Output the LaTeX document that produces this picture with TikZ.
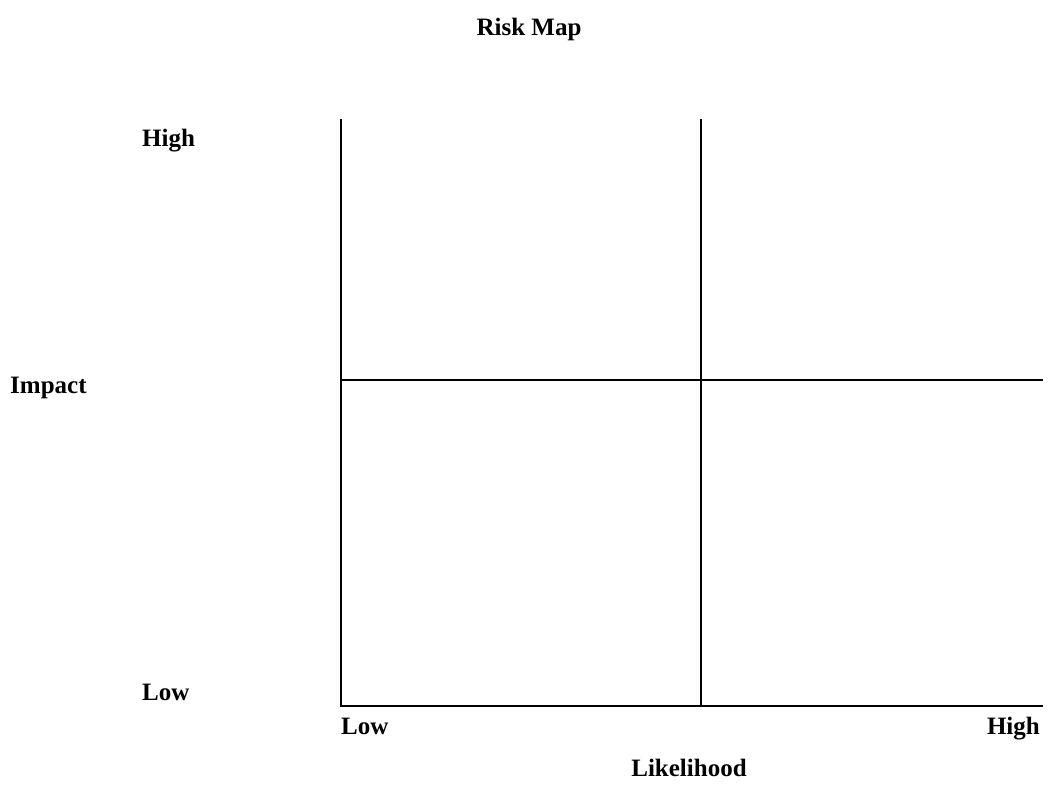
\documentclass[tikz,border=0pt]{standalone}
\usepackage{fontspec}
\setmainfont{Liberation Serif}
\begin{document}
\begin{tikzpicture}[x=1pt,y=-1pt,
  lbl/.style={font=\fontsize{25}{30}\selectfont\bfseries, inner sep=0pt, anchor=base west},
  grid/.style={line width=2pt}]
\useasboundingbox (0,0) rectangle (1048,785);
\coordinate (tl) at (341,119);
\coordinate (bl) at (341,706);
\coordinate (br) at (1043,706);
\coordinate (tm) at (701,119);
\coordinate (bm) at (701,706);
\coordinate (ml) at (341,380);
\coordinate (mr) at (1043,380);
\draw[grid] (tl) -- (bl) -- (br);
\draw[grid] (tm) -- (bm);
\draw[grid] (ml) -- (mr);
\node[lbl, anchor=base] (title) at (529,35) {Risk Map};
\node[lbl] (yhigh) at (142,146) {High};
\node[lbl] (impact) at (10,393) {Impact};
\node[lbl] (ylow) at (142,700) {Low};
\node[lbl] (xlow) at (341,734) {Low};
\node[lbl, anchor=base east] (xhigh) at (1040,734) {High};
\node[lbl, anchor=base] (likelihood) at (689,776) {Likelihood};
\end{tikzpicture}
\end{document}
